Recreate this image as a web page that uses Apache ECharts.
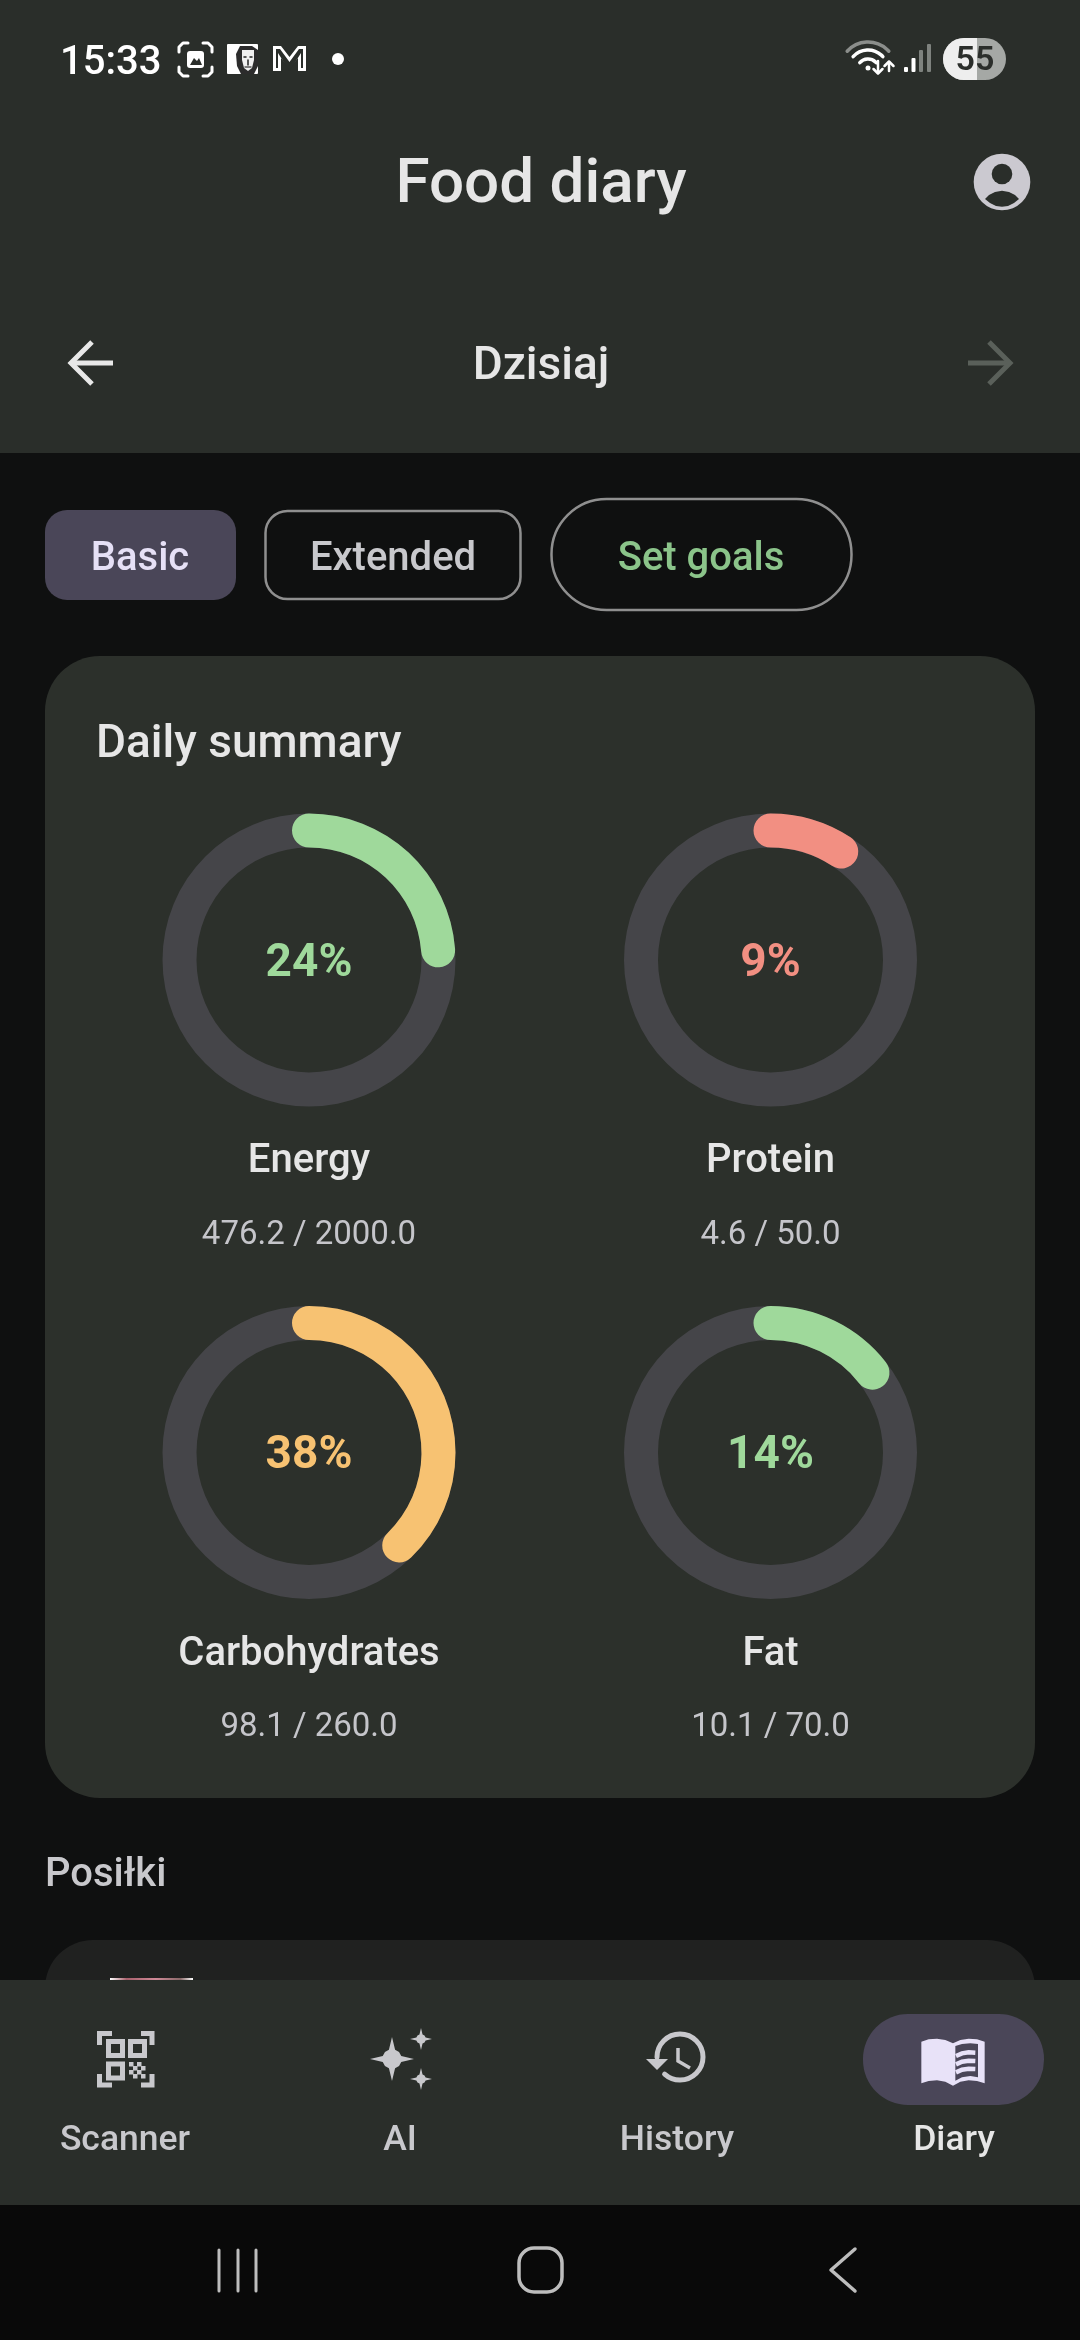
<!DOCTYPE html>
<html><head><meta charset="utf-8">
<style>html,body{margin:0;padding:0;background:#0f1010}#c{width:1080px;height:2340px}</style>
<script src="https://cdn.jsdelivr.net/npm/echarts@6/dist/echarts.min.js"></script>
</head><body><div id="c"></div>
<script>
// ---- data ----
const nutrients = ['Energy', 'Protein', 'Carbohydrates', 'Fat'];
const consumed  = [476.2, 4.6, 98.1, 10.1];
const goals     = [2000, 50, 260, 70];
const tones     = ['#9fd99b', '#f28f82', '#f7c272', '#9fd99b'];
const tabs      = ['Scanner', 'AI', 'History', 'Diary'];

// ---- layout ----
const colX = [309, 770.5], rowY = [960, 1452.5];
const FONT = 'Roboto';
const W = '#ffffff', TXT = '#e6e6e6', MUT = '#c8c8cc', PANEL = '#2a2e2a', CARD = '#2c302b';
const g = [];
const rect = (x, y, w, h, r, fill, stroke, lw) => g.push({type:'rect', shape:{x, y, width:w, height:h, r}, style:{fill:fill||'none', stroke:stroke||'none', lineWidth:lw||0}});
const text = (x, y, s, size, weight, color, align) => g.push({type:'text', x, y:y+size*0.08, style:{text:s, font:`${weight} ${size}px ${FONT}`, fill:color, align:align||'center', textAlign:align||'center', verticalAlign:'middle', textVerticalAlign:'middle'}});
const circle = (cx, cy, r, fill) => g.push({type:'circle', shape:{cx, cy, r}, style:{fill}});
const poly = (points, fill) => g.push({type:'polygon', shape:{points}, style:{fill}});
const line = (points, stroke, lw, cap) => g.push({type:'polyline', shape:{points}, style:{stroke, lineWidth:lw, fill:'none', lineCap:cap||'round', lineJoin:cap==='butt'?'miter':'round'}});
const arc = (cx, cy, r, a0, a1, stroke, lw) => g.push({type:'arc', shape:{cx, cy, r, startAngle:a0*Math.PI/180, endAngle:a1*Math.PI/180, clockwise:true}, style:{stroke, lineWidth:lw, fill:'none', lineCap:'round'}});

// backgrounds
rect(0, 0, 1080, 453, 0, PANEL);
// status bar
text(60, 60.5, '15:33', 40, 500, W, 'left');
[[[179,52],[179,47],[183,43],[188,43]], [[203,43],[208,43],[212,47],[212,52]], [[212,67],[212,72],[208,76],[203,76]], [[188,76],[183,76],[179,72],[179,67]]].forEach(p => line(p, W, 3));
rect(187, 51, 17, 17, 3, W);
poly([[190,65],[194,58],[197,61],[199,58],[202,65]], PANEL);
rect(227, 44, 31, 30, 1, W);
poly([[240,46],[252,46],[258,50],[258,66],[254,74],[241,74],[237,66],[236,54]], '#2c2c2c');
poly([[242,50],[254,50],[254,60],[252,68],[248,71],[244,68],[242,60]], '#f0f0f0');
line([[244,57],[246,57]], '#222', 1.5);
line([[250,57],[252,57]], '#222', 1.5);
line([[248,60],[248,65]], '#222', 1.5);
line([[245,67],[251,67]], '#555', 1.5);
poly([[273,46],[281,46],[289.5,57],[298,46],[306,46],[306,71],[298,71],[298,58],[289.5,68],[281,58],[281,71],[273,71]], W);
poly([[276,49],[280,49],[289.5,62],[299,49],[303,49],[303,68],[301,68],[301,53],[289.5,71],[278,53],[278,68],[276,68]], PANEL);
circle(338, 59, 6, W);
// wifi
arc(868, 70, 28, 222, 318, '#8b8e8b', 3.5);
arc(868, 70, 20, 222, 318, W, 3.5);
arc(868, 70, 11, 222, 318, W, 3.5);
circle(868, 68, 2.5, W);
line([[878,61],[878,73]], W, 2.5); line([[873.5,69],[878,73.5],[882.5,69]], W, 2.5);
line([[889,71],[889,62]], W, 2.5); line([[884.5,66],[889,61.5],[893.5,66]], W, 2.5);
// signal
rect(904, 67, 4, 5, 1, W); rect(911.5, 58, 4, 14, 1, W);
rect(919, 50, 4, 22, 1, '#7e827e'); rect(927, 44, 4, 28, 1, '#7e827e');
// battery
rect(943, 38, 63, 42, 21, '#a5a8a5');
rect(943, 38, 34, 42, [21,0,0,21], '#eeeeee');
text(975, 58.5, '55', 34, 600, '#2b2e2b');

// header
text(541, 182, 'Food diary', 62, 500, TXT);
circle(1002, 182, 28.3, '#cbc9d0');
circle(1002, 174, 10.3, PANEL);
poly([[985,199],[989,195],[995,192],[1002,190.7],[1009,192],[1015,195],[1019,199],[1014,203],[1008,206],[1002,206.8],[996,206],[990,203]], PANEL);
line([[113,363],[72,363]], '#e8e8e8', 5, 'butt');
line([[92,342],[71,363],[92,384]], '#e8e8e8', 5, 'butt');
line([[968,363],[1009,363]], '#5a605a', 5, 'butt');
line([[989,342],[1010,363],[989,384]], '#5a605a', 5, 'butt');
text(541, 364, 'Dzisiaj', 46, 500, TXT);

// chips
rect(45, 510, 191, 90, 22, '#4a4658');
text(140, 556.5, 'Basic', 40, 500, '#e6e0f6');
rect(265.5, 511, 255, 88, 22, 'none', '#8f8f8f', 2.5);
text(393, 556.5, 'Extended', 40, 500, MUT);
rect(551.5, 499, 300, 111, 55, 'none', '#8f8f8f', 2.5);
text(701, 556.5, 'Set goals', 40, 500, '#8bc48a');

// summary card
rect(45, 656, 990, 1142, 55, CARD);
text(96, 741.5, 'Daily summary', 46, 500, TXT, 'left');
nutrients.forEach((n, i) => {
  const cx = colX[i % 2], cy = rowY[i >> 1];
  text(cx, cy + 273, consumed[i].toFixed(1) + ' / ' + goals[i].toFixed(1), 33, 400, '#c5c5ca');
});

// meals
text(45, 1872.5, 'Posiłki', 40, 500, MUT, 'left');
rect(45, 1940, 990, 120, 48, '#202120');
g.push({type:'rect', shape:{x:110, y:1978, width:83, height:2}, style:{fill:new echarts.graphic.LinearGradient(0,0,1,0,[{offset:0,color:'#ffffff'},{offset:.2,color:'#a8606c'},{offset:.55,color:'#d08a98'},{offset:.85,color:'#8a6a6a'},{offset:1,color:'#ffffff'}])}});

// bottom nav
rect(0, 1980, 1080, 225, 0, PANEL);
rect(0, 2205, 1080, 135, 0, '#090909');
rect(863, 2014, 181, 91, 45, '#4a4658');
const tabX = [125, 400, 677, 954];
tabs.forEach((t, i) => text(tabX[i], 2138, t, 35.5, 500, i === 3 ? TXT : MUT));

// scanner icon
const IC = '#c8c8cc';
line([[99.5,2045],[99.5,2033.5],[112,2033.5]], IC, 5, 'butt');
line([[141,2033.5],[152,2033.5],[152,2045]], IC, 5, 'butt');
line([[99.5,2074],[99.5,2085],[112,2085]], IC, 5, 'butt');
line([[141,2085],[152,2085],[152,2074]], IC, 5, 'butt');
rect(108.5, 2041.5, 14, 14, 0, 'none', IC, 5);
rect(130.5, 2041.5, 14, 14, 0, 'none', IC, 5);
rect(108.5, 2064, 14, 14, 0, 'none', IC, 5);
[[129,2062],[137,2062],[133,2066],[141,2066],[129,2070],[137,2070],[133,2074],[141,2074]].forEach(p => rect(p[0], p[1], 4.5, 4.5, 0, IC));
// AI icon
const star = (x, y, h) => poly([[x,y-h],[x+h*.14,y-h*.42],[x+h*.32,y-h*.32],[x+h*.42,y-h*.14],[x+h,y],[x+h*.42,y+h*.14],[x+h*.32,y+h*.32],[x+h*.14,y+h*.42],[x,y+h],[x-h*.14,y+h*.42],[x-h*.32,y+h*.32],[x-h*.42,y+h*.14],[x-h,y],[x-h*.42,y-h*.14],[x-h*.32,y-h*.32],[x-h*.14,y-h*.42]], IC);
star(392, 2059, 22); star(421, 2039, 11); star(421, 2079, 11);
// history icon
arc(680, 2057, 23, 180, 492, IC, 5);
poly([[646,2059],[668,2059],[657,2070]], IC);
line([[678,2048],[678,2061],[690,2068]], IC, 3.5, 'butt');
// diary icon
const B = '#e8e2f8', bx = v => 912 + v / 3, by = v => 2020 + v / 3;
const bk = (pts, c) => poly(pts.map(p => [bx(p[0]), by(p[1])]), c);
bk([[28,65],[50,58],[75,56],[100,60],[123,70],[145,60],[170,56],[195,58],[218,65],[218,190],[195,183],[170,181],[145,185],[123,197],[100,185],[75,181],[50,183],[28,190]], B);
bk([[130,78],[150,72],[175,70],[198,72],[198,172],[175,168],[150,172],[130,182]], '#4a4658');
[100,125,149].forEach(v => line([[bx(132),by(v+8)],[bx(150),by(v)],[bx(170),by(v-3)],[bx(190),by(v-2)]], B, 4.5, 'butt'));

// system nav
const SYS = '#bdbdbd';
[219, 238, 256].forEach(x => line([[x,2250],[x,2291]], SYS, 3));
rect(519, 2248, 43, 44, 15, 'none', SYS, 3.5);
line([[855,2249],[831,2270],[855,2291]], SYS, 3.5);

// ---- charts ----
const series = nutrients.map((n, i) => ({
  type: 'gauge',
  center: [colX[i % 2], rowY[i >> 1]],
  radius: 146.5,
  startAngle: 90, endAngle: -270,
  min: 0, max: goals[i],
  animation: false,
  silent: true,
  pointer: {show:false}, anchor: {show:false},
  axisTick: {show:false}, splitLine: {show:false}, axisLabel: {show:false},
  axisLine: {roundCap:false, lineStyle:{width:34, color:[[1,'#454549']]}},
  progress: {show:true, width:34, roundCap:true, itemStyle:{color:tones[i]}},
  title: {offsetCenter:[0,202], fontFamily:FONT, fontSize:40, fontWeight:500, color:TXT},
  detail: {offsetCenter:[0,4], fontFamily:FONT, fontSize:46, fontWeight:700, color:tones[i], formatter: v => Math.round(v / goals[i] * 100) + '%'},
  data: [{value:consumed[i], name:n}]
}));

const chart = echarts.init(document.getElementById('c'), null, {width:1080, height:2340});
chart.setOption({backgroundColor:'#0f1010', animation:false, graphic:{elements:g}, series});
</script></body></html>
